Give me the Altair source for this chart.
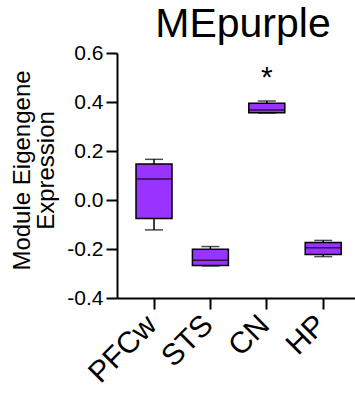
import altair as alt
import pandas as pd

categories = ["PFCw", "STS", "CN", "HP"]
whisker_min = [-0.122, -0.269, 0.355, -0.231]
q1 = [-0.075, -0.267, 0.356, -0.222]
median = [0.086, -0.246, 0.367, -0.195]
q3 = [0.147, -0.201, 0.395, -0.173]
whisker_max = [0.166, -0.190, 0.404, -0.165]
sig_category = ["CN"]
sig_label = ["*"]
sig_y = [0.50]
y_ticks = [-0.4, -0.2, 0.0, 0.2, 0.4, 0.6]

PURPLE = "#9933FF"
FONT = "Liberation Sans"

df = pd.DataFrame(dict(cat=categories, lo=whisker_min, q1=q1, med=median, q3=q3, hi=whisker_max))
sig = pd.DataFrame(dict(cat=sig_category, label=sig_label, y=sig_y))

x = alt.X(
    "cat:N",
    sort=categories,
    scale=alt.Scale(domain=categories, paddingInner=0, paddingOuter=0.11, align=0.71),
    axis=alt.Axis(
        title=None, labelAngle=-45, labelFontSize=30, labelColor="black",
        labelBaseline="middle", labelAlign="right",
        labelPadding=11, labelOffset=-2, tickSize=11, tickWidth=2, tickColor="black",
        domainWidth=2, domainColor="black", grid=False,
    ),
)
yscale = alt.Scale(domain=[-0.4, 0.6], nice=False, zero=False)
yaxis = alt.Axis(
    values=y_ticks,
    labelExpr="(datum.value < -0.0001 ? '-' : '') + format(abs(datum.value), '.1f')",
    labelFontSize=21, labelColor="black", labelPadding=3,
    tickSize=11, tickWidth=2, tickColor="black",
    domainWidth=2, domainColor="black", grid=False,
    title=["Module Eigengene", "Expression"], titleFontSize=24, titleLineHeight=24,
    titleFontWeight="normal", titleColor="black", titlePadding=8, titleY=117,
)

base = alt.Chart(df)

whisk = base.mark_rule(color="black", strokeWidth=1.5).encode(
    x=x, y=alt.Y("lo:Q", scale=yscale, axis=yaxis), y2="hi:Q"
)
box = base.mark_bar(size=36, fill=PURPLE, stroke="black", strokeWidth=1.5).encode(
    x=x, y=alt.Y("q1:Q", scale=yscale, axis=yaxis), y2="q3:Q"
)
med = base.mark_tick(size=36, thickness=1.5, color="black", orient="horizontal").encode(
    x=x, y=alt.Y("med:Q", scale=yscale, axis=yaxis)
)
cap_lo = base.mark_tick(size=18, thickness=1.5, color="black", orient="horizontal").encode(
    x=x, y=alt.Y("lo:Q", scale=yscale, axis=yaxis)
)
cap_hi = base.mark_tick(size=18, thickness=1.5, color="black", orient="horizontal").encode(
    x=x, y=alt.Y("hi:Q", scale=yscale, axis=yaxis)
)
star = alt.Chart(sig).mark_text(fontSize=30, color="black", baseline="middle", align="center").encode(
    x=x, y=alt.Y("y:Q", scale=yscale, axis=yaxis), text="label:N"
)

chart = alt.layer(whisk, cap_lo, cap_hi, box, med, star).properties(
    width=238,
    height=245,
    padding={"left": 117, "top": 53, "right": 0, "bottom": 106},
    autosize="none",
    title=alt.TitleParams("MEpurple", fontSize=41, fontWeight="normal", anchor="middle",
                          offset=6, dx=7, dy=10, color="black", font=FONT),
).configure(font=FONT).configure_view(stroke=None)

chart.save("out.html", embed_options={"renderer": "svg", "actions": False})
